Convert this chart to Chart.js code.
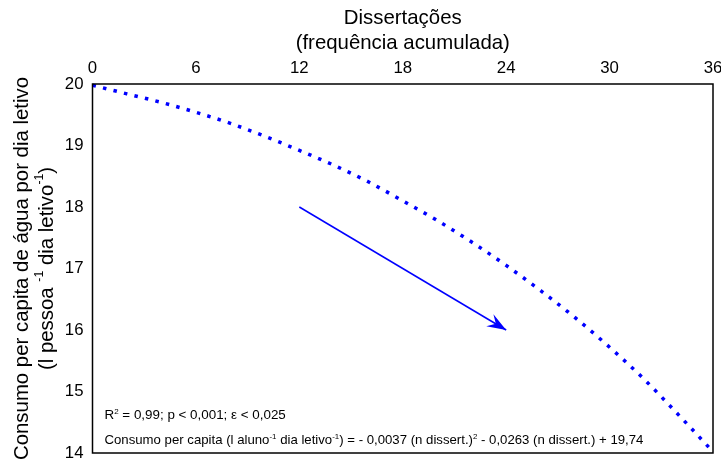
<!DOCTYPE html>
<html>
<head>
<meta charset="utf-8">
<script src="https://cdn.jsdelivr.net/npm/chart.js@4/dist/chart.umd.min.js"></script>
<style>
  body { margin: 0; background: #fff; }
  canvas { display: block; }
</style>
</head>
<body>
<canvas id="myChart" width="721" height="459"></canvas>
<script>
// values
const dissertacoes = [0, 2, 4, 6, 8, 10, 12, 14, 16, 18, 20, 22, 24, 26, 28, 30, 32, 34, 36];
const consumo = [19.98, 19.84, 19.70, 19.54, 19.36, 19.15, 18.92, 18.68, 18.41, 18.10, 17.78, 17.43, 17.05, 16.64, 16.20, 15.72, 15.20, 14.62, 14.02];
const arrowX = [12, 24];
const arrowY = [18, 16];
const xTicks = [0, 6, 12, 18, 24, 30, 36];
const yTicks = [14, 15, 16, 17, 18, 19, 20];

const fontFamily = "'Liberation Sans', Arial, sans-serif";
const blue = "#0000ff";

// draws text with some parts as superscript
function drawRich(ctx, x, y, parts, size) {
  let cx = x;
  for (const p of parts) {
    const sup = p[1];
    ctx.font = (sup ? size * 0.6 : size) + "px " + fontFamily;
    ctx.fillText(p[0], cx, sup ? y - size * 0.38 : y);
    cx += ctx.measureText(p[0]).width;
  }
  return cx - x;
}

function richWidth(ctx, parts, size) {
  let w = 0;
  for (const p of parts) {
    ctx.font = (p[1] ? size * 0.6 : size) + "px " + fontFamily;
    w += ctx.measureText(p[0]).width;
  }
  return w;
}

const extras = {
  id: "extras",
  afterDatasetsDraw(chart) {
    const ctx = chart.ctx;
    const a = chart.chartArea;
    const xs = chart.scales.x, ys = chart.scales.y;

    // arrow head
    const x1 = xs.getPixelForValue(arrowX[0]), y1 = ys.getPixelForValue(arrowY[0]);
    const x2 = xs.getPixelForValue(arrowX[1]), y2 = ys.getPixelForValue(arrowY[1]);
    const ang = Math.atan2(y2 - y1, x2 - x1);
    ctx.save();
    ctx.translate(x2, y2);
    ctx.rotate(ang);
    ctx.fillStyle = blue;
    ctx.beginPath();
    ctx.moveTo(0, 0);
    ctx.lineTo(-19, -7);
    ctx.lineTo(-12, 0);
    ctx.lineTo(-19, 7);
    ctx.closePath();
    ctx.fill();
    ctx.restore();

    // box around the plot
    ctx.save();
    ctx.strokeStyle = "#000";
    ctx.lineWidth = 1.5;
    ctx.strokeRect(a.left, a.top, a.right - a.left, a.bottom - a.top);
    ctx.restore();

    // statistics text
    ctx.save();
    ctx.fillStyle = "#000";
    ctx.textBaseline = "alphabetic";
    ctx.textAlign = "left";
    drawRich(ctx, a.left + 12, 419, [["R", 0], ["2", 1], [" = 0,99; p < 0,001; \u03b5 < 0,025", 0]], 13.4);
    drawRich(ctx, a.left + 12, 444, [
      ["Consumo per capita (l aluno", 0], ["-1", 1], [" dia letivo", 0], ["-1", 1],
      [") = - 0,0037 (n dissert.)", 0], ["2", 1], [" - 0,0263 (n dissert.) + 19,74", 0]
    ], 13.2);
    ctx.restore();
  },
  afterDraw(chart) {
    const ctx = chart.ctx;
    const a = chart.chartArea;
    const cx = (a.left + a.right) / 2;
    const cy = (a.top + a.bottom) / 2;
    ctx.save();
    ctx.fillStyle = "#000";
    ctx.textAlign = "center";
    ctx.textBaseline = "middle";
    ctx.font = "20.4px " + fontFamily;
    ctx.fillText("Disserta\u00e7\u00f5es", cx, 18);
    ctx.fillText("(frequ\u00eancia acumulada)", cx, 43);

    // y title, rotated
    ctx.translate(0, cy);
    ctx.rotate(-Math.PI / 2);
    ctx.fillText("Consumo per capita de \u00e1gua por dia letivo", 0, 22);
    const parts = [["(l pessoa ", 0], ["-1", 1], [" dia letivo", 0], ["-1", 1], [")", 0]];
    const w = richWidth(ctx, parts, 20.4);
    ctx.textAlign = "left";
    drawRich(ctx, -w / 2, 47, parts, 20.4);
    ctx.restore();
  }
};

new Chart(document.getElementById("myChart"), {
  type: "line",
  data: {
    datasets: [
      {
        label: "Consumo",
        data: dissertacoes.map((d, i) => ({ x: d, y: consumo[i] })),
        borderColor: blue,
        borderWidth: 3.5,
        borderDash: [3.5, 7.3],
        borderCapStyle: "butt",
        cubicInterpolationMode: "monotone",
        pointRadius: 0,
        fill: false,
        clip: false
      },
      {
        label: "Seta",
        data: arrowX.map((d, i) => ({ x: d, y: arrowY[i] })),
        borderColor: blue,
        borderWidth: 1.5,
        pointRadius: 0,
        fill: false
      }
    ]
  },
  options: {
    responsive: false,
    devicePixelRatio: 1,
    animation: false,
    layout: { padding: { top: 0, left: 0, right: 8, bottom: 6 } },
    plugins: { legend: { display: false }, tooltip: { enabled: false } },
    scales: {
      x: {
        type: "linear",
        position: "top",
        min: 0,
        max: 36,
        afterBuildTicks: (s) => { s.ticks = xTicks.map(v => ({ value: v })); },
        afterFit: (s) => { s.height = 84; s.paddingLeft = 0; s.paddingRight = 0; },
        ticks: {
          color: "#000",
          font: { family: fontFamily, size: 16.8 },
          padding: 6,
          autoSkip: false,
          maxRotation: 0
        },
        grid: { display: false, drawTicks: false },
        border: { display: false }
      },
      y: {
        min: 14,
        max: 20,
        afterBuildTicks: (s) => { s.ticks = yTicks.map(v => ({ value: v })); },
        afterFit: (s) => { s.width = 92.5; s.paddingTop = 0; s.paddingBottom = 0; },
        ticks: {
          color: "#000",
          font: { family: fontFamily, size: 16.8 },
          padding: 9,
          autoSkip: false
        },
        grid: { display: false, drawTicks: false },
        border: { display: false }
      }
    }
  },
  plugins: [extras]
});
</script>
</body>
</html>
